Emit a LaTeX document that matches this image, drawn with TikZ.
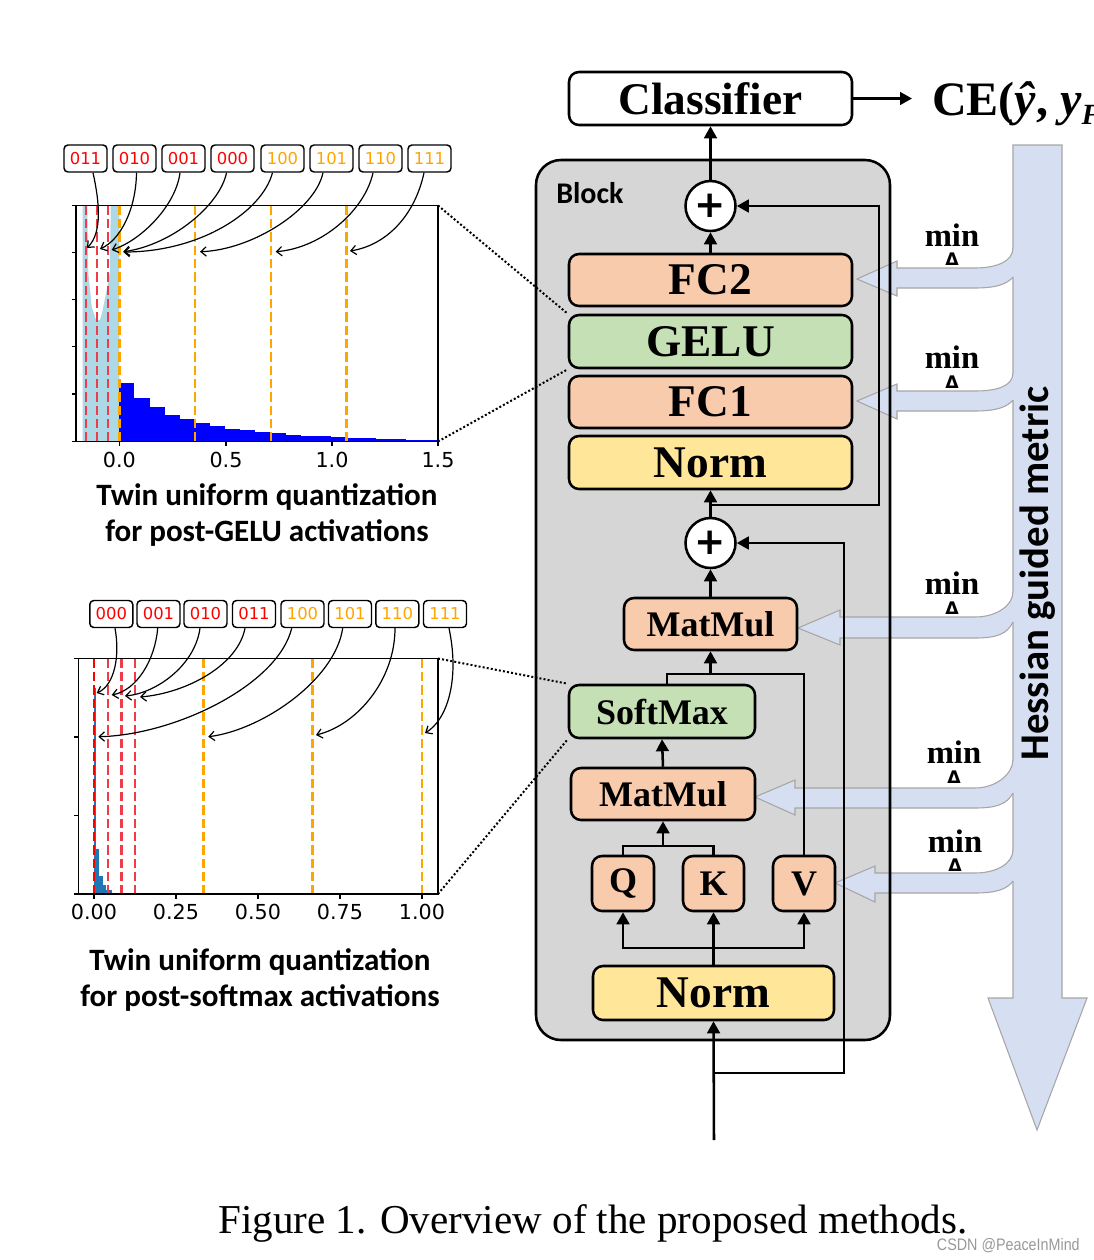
\documentclass[tikz,border=0pt]{standalone}
\usepackage{fontspec}
\setmainfont{Liberation Serif}
\newfontfamily\carl{Carlito}
\newfontfamily\djv{DejaVu Sans}
\newfontfamily\narrowsans[FakeStretch=0.86]{Liberation Sans}
\usetikzlibrary{arrows.meta,calc}
\definecolor{salmon}{HTML}{F8CBAD}
\definecolor{lgreen}{HTML}{C5E0B4}
\definecolor{lyellow}{HTML}{FFE699}
\definecolor{blockgray}{HTML}{D6D6D6}
\definecolor{hess}{HTML}{D6DEF2}
\definecolor{hessb}{HTML}{A6A6A6}
\definecolor{qorange}{HTML}{FFA500}
\definecolor{qredline}{RGB}{238,60,72}
\definecolor{lblue}{HTML}{ADD8E6}
\definecolor{mplblue}{HTML}{1F77B4}
\newcommand\sidearr[9]{%
  \fill[hess] (1015,#8) -- (1013,#8) .. controls (1013,#8+13) and (997,#4) .. (975,#4) -- (#3,#4) -- (#3,#6) -- (#1,#2) -- (#3,#7) -- (#3,#5) -- (975,#5) .. controls (997,#5) and (1007,#5-4) .. (1013,#9) -- (1015,#9) -- cycle;
  \draw[hessb,line width=0.8pt,line join=miter] (1013,#8) .. controls (1013,#8+13) and (997,#4) .. (975,#4) -- (#3,#4) -- (#3,#6) -- (#1,#2) -- (#3,#7) -- (#3,#5) -- (975,#5) .. controls (997,#5) and (1007,#5-4) .. (1013,#9);
}
\newcommand\minlab[4]{%
  \node[minf,anchor=base] (#1m) at (#2,#3) {min};
  \node[deltaf,anchor=base] (#1d) at (#2,#4) {Δ};
}
\begin{document}
\begin{tikzpicture}[x=0.75pt,y=-0.75pt,
  box/.style={draw,line width=1.9pt,rounded corners=7.5pt,inner sep=0pt,minimum height=39pt},
  bigt/.style={font=\bfseries\fontsize{34}{36}\selectfont},
  midt/.style={font=\bfseries\fontsize{27}{30}\selectfont},
  conn/.style={line width=1.9pt},
  tri/.style={-{Triangle[length=9pt,width=9.5pt]}},
  plusn/.style={circle,draw,line width=1.9pt,fill=white,minimum size=37.5pt,inner sep=0pt,font=\djv\bfseries\fontsize{28}{28}\selectfont},
  bitbox/.style={draw,line width=1.1pt,rounded corners=3pt,minimum width=32.25pt,minimum height=20.25pt,inner sep=0pt,fill=white,font=\djv\fontsize{12.3}{12.3}\selectfont},
  qarr/.style={line width=0.9pt,-{Straight Barb[length=4pt,width=7pt]}},
  redq/.style={qredline,line width=1.8pt,dash pattern=on 7pt off 3pt},
  orq/.style={qorange,line width=1.8pt,dash pattern=on 7pt off 3pt},
  tickl/.style={font=\djv\fontsize{15.5}{16}\selectfont},
  capt/.style={font=\carl\bfseries\fontsize{23.3}{27.3}\selectfont,align=center},
  minf/.style={font=\bfseries\fontsize{24.5}{25}\selectfont,inner sep=0pt},
  deltaf/.style={font=\djv\bfseries\fontsize{13}{13}\selectfont,inner sep=0pt},
  dotl/.style={line width=1.5pt,dash pattern=on 1.5pt off 1.6pt}
]
\useasboundingbox (0,0) rectangle (1094,1260);
\fill[white] (0,0) rectangle (1094,1260);

% ===== block background
\fill[blockgray,rounded corners=18.75pt] (536,160) rectangle (890,1040);

% ===== Hessian arrow
\draw[hessb,fill=hess,line width=0.8pt,line join=miter] (1013,145) -- (1062,145) -- (1062,998) -- (1087,998) -- (1037,1130) -- (988,998) -- (1013,998) -- cycle;
\node[rotate=90,font=\carl\bfseries\fontsize{30.6}{32}\selectfont,inner sep=0pt] (hesst) at (1038,573.5) {Hessian guided metric};

\sidearr{857}{279}{897}{268}{288}{261}{296}{248}{277}
\sidearr{857}{401}{897}{391}{411}{384}{419}{373}{400}
\sidearr{798}{628}{840}{617}{638}{610}{645}{592}{622}
\sidearr{755}{797}{795}{788}{808}{780}{815}{760}{793}
\sidearr{835}{883}{875}{873}{893}{866}{902}{850}{881}

\minlab{ma}{952}{246}{265.5}
\minlab{mb}{952}{368}{388}
\minlab{mc}{952}{594}{614.5}
\minlab{md}{954}{763}{783.5}
\minlab{me}{955}{852}{871}

% block border
\draw[line width=1.9pt,rounded corners=18.75pt] (536,160) rectangle (890,1040);
\node[anchor=west,font=\carl\bfseries\fontsize{22.5}{24}\selectfont,inner sep=0pt] (blk) at (556,193) {Block};

% ===== nodes
\node[box,fill=white,minimum width=212.25pt,minimum height=39.75pt,bigt] (cls) at (710.5,98.5) {Classifier};
\node[plusn] (p1) at (710.5,206) {+};
\node[box,fill=salmon,minimum width=212.25pt,bigt] (fc2) at (710.5,280) {FC2};
\node[box,fill=lgreen,minimum width=212.25pt,minimum height=39.75pt,bigt] (gelu) at (710.5,341.5) {GELU};
\node[box,fill=salmon,minimum width=212.25pt,bigt] (fc1) at (710.5,402) {FC1};
\node[box,fill=lyellow,minimum width=212.25pt,minimum height=39.75pt,bigt] (n1) at (710.5,462.5) {Norm};
\node[plusn] (p2) at (710.5,543) {+};
\node[box,fill=salmon,minimum width=129.75pt,midt] (mm1) at (710.5,624) {MatMul};
\node[box,fill=lgreen,minimum width=139.5pt,minimum height=39.75pt,midt] (sm) at (662,711.5) {SoftMax};
\node[box,fill=salmon,minimum width=138pt,midt] (mm2) at (663,794) {MatMul};
\node[box,fill=salmon,minimum width=46.5pt,minimum height=41.25pt,midt] (q) at (623,883.5) {Q};
\node[box,fill=salmon,minimum width=45.75pt,minimum height=41.25pt,midt] (k) at (713.5,883.5) {K};
\node[box,fill=salmon,minimum width=46.5pt,minimum height=41.25pt,midt] (v) at (804,883.5) {V};
\node[box,fill=lyellow,minimum width=180.75pt,minimum height=40.5pt,bigt] (n2) at (713.5,993) {Norm};

% ===== connectors
\coordinate (ceend) at (912,98.5);
\draw[conn,tri] (cls.east) -- (ceend);
\node[anchor=base west,inner sep=0pt,font=\bfseries\fontsize{36}{36}\selectfont] (ce) at (932,115) {CE(\textit{ŷ}, \textit{y}{\fontsize{22}{22}\selectfont\raisebox{-7pt}{\textit{F}}}};
\draw[conn,tri] (p1.north) -- (cls.south);
\draw[conn,tri] (fc2.north) -- (p1.south);
\draw[conn,tri] (p2.north) -- (n1.south);
\coordinate (r1) at (710.5,505);
\draw[conn,tri] (r1) -- (879,505) |- (p1.east);
\draw[conn,tri] (mm1.north) -- (p2.south);
\coordinate (r2) at (714,1073);
\draw[conn,tri] (r2) -- (844,1073) |- (p2.east);
\coordinate (inp) at (714,1140);
\draw[conn,tri] (inp) -- (n2.south);
\coordinate (jsv) at (710.5,674);
\draw[conn] ($(sm.north)+(5,0)$) |- (v.north |- jsv) -- (v.north);
\draw[conn,tri] (jsv) -- (mm1.south);
\draw[conn,tri] (mm2.north) -- (sm.south);
\coordinate (jqk) at (663,846);
\draw[conn] (q.north) |- (k.north |- jqk) -- (k.north);
\draw[conn,tri] (jqk) -- (mm2.south);
\coordinate (jb) at (713.5,948);
\draw[conn,tri] (n2.north) -- (k.south);
\draw[conn,tri] (jb) -| (q.south);
\draw[conn,tri] (jb) -| (v.south);

% ===== top histogram
\fill[lblue] (82.7,441.5) -- (82.7,205.5) -- (87.3,205.5) -- (88.3,273) -- (91.7,307) -- (96,320) -- (100,320) -- (102,313) -- (106.7,290) -- (110,272) -- (110.7,205.5) -- (119.3,205.5) -- (119.3,441.5) -- cycle;
\foreach \h [count=\i from 0] in {382.7,398.3,407.3,415,419,422.7,425.7,428.7,430,432,433.3,434.7,435.7,436.3,437,437.7,438.3,439,439.3,439.7,440}
  \fill[blue] (119.3+\i*15.11,441.5) rectangle (119.3+\i*15.11+15.11,\h);
\foreach \x in {86,97,108} \draw[redq] (\x,205.5) -- (\x,441.5);
\foreach \x in {119.3,195,270.7,346.3} \draw[orq] (\x,205.5) -- (\x,441.5);
\draw[line width=0.9pt] (76,205.5) rectangle (438,441.5);
\foreach \y in {205.5,252.5,299.5,346.5,394,441.5} \draw[line width=0.9pt] (71.5,\y) -- (76,\y);
\foreach \x/\t [count=\i] in {119.3/0.0,226/0.5,332/1.0,438/1.5} {
  \draw[line width=0.9pt] (\x,441.5) -- (\x,446);
  \node[tickl] (ta\i) at (\x,460) {\t};
}
\coordinate (h1tr) at (438,205.5);
\coordinate (h1br) at (438,441.5);
\foreach \x/\t/\c [count=\i] in {85.5/011/red,134.5/010/red,183.5/001/red,232.5/000/red,282.5/100/qorange,331.5/101/qorange,380.5/110/qorange,429.5/111/qorange}
  \node[bitbox,text=\c] (t\i) at (\x,158.5) {\t};
\draw[qarr] ($(t1.south)+(7.5,0)$) .. controls (99,200) and (103,232) .. (87,248);
\draw[qarr] ($(t2.south)+(2,0)$) .. controls (136,210) and (120,240) .. (100,249);
\draw[qarr] ($(t3.south)+(-3.5,0)$) .. controls (176,205) and (142,240) .. (111.7,250);
\draw[qarr] ($(t4.south)+(-6,0)$) .. controls (220,205) and (172,245) .. (123.3,251.7);
\draw[qarr] ($(t5.south)+(-10,0)$) .. controls (262,212) and (200,252) .. (123.3,252);
\draw[qarr] ($(t6.south)+(-8.5,0)$) .. controls (315,210) and (252,250) .. (200,251.7);
\draw[qarr] ($(t7.south)+(-7.5,0)$) .. controls (365,210) and (322,248) .. (275.7,251.7);
\draw[qarr] ($(t8.south)+(-5.5,0)$) .. controls (415,215) and (387,245) .. (350,251);
\node[capt] (c1) at (267,515) {Twin uniform quantization\\for post-GELU activations};

% ===== bottom histogram
\fill[mplblue] (94.3,894) rectangle (96,688);
\fill[mplblue] (96,894) rectangle (99.3,849);
\fill[mplblue] (99.3,894) rectangle (102.7,875.7);
\fill[mplblue] (102.7,894) rectangle (106,885);
\fill[mplblue] (106,894) rectangle (112,890);
\draw[red,line width=1.8pt,dash pattern=on 7pt off 3pt] (94,658.5) -- (94,894);
\foreach \x in {107.7,121.3,135} \draw[redq] (\x,658.5) -- (\x,894);
\foreach \x in {203.3,312.3,422} \draw[orq] (\x,658.5) -- (\x,894);
\draw[line width=0.9pt] (78.5,658.5) rectangle (438,894);
\foreach \y in {658.5,737,815.5,894} \draw[line width=0.9pt] (74,\y) -- (78.5,\y);
\foreach \x/\t [count=\i] in {94/0.00,176/0.25,258/0.50,340/0.75,422/1.00} {
  \draw[line width=0.9pt] (\x,894) -- (\x,898.5);
  \node[tickl] (tb\i) at (\x,912) {\t};
}
\coordinate (h2tr) at (438,658.5);
\coordinate (h2br) at (438,894);
\foreach \x/\t/\c [count=\i] in {111.3/000/red,158.5/001/red,205.5/010/red,254/011/red,302.5/100/qorange,350/101/qorange,397.3/110/qorange,445/111/qorange}
  \node[bitbox,text=\c] (b\i) at (\x,614) {\t};
\draw[qarr] ($(b1.south)+(3.7,0)$) .. controls (120,655) and (115,685) .. (96.7,693);
\draw[qarr] ($(b2.south)+(-0.8,0)$) .. controls (155,660) and (137,690) .. (111.7,695);
\draw[qarr] ($(b3.south)+(-5.5,0)$) .. controls (195,665) and (157,693) .. (125,696);
\draw[qarr] ($(b4.south)+(-9,0)$) .. controls (238,665) and (187,693) .. (140,697);
\draw[qarr] ($(b5.south)+(-10.8,0)$) .. controls (278,685) and (175,735) .. (98.3,736.7);
\draw[qarr] ($(b6.south)+(-7.3,0)$) .. controls (335,680) and (262,730) .. (208.3,736.7);
\draw[qarr] ($(b7.south)+(-2.3,0)$) .. controls (395,680) and (357,725) .. (316,735);
\draw[qarr] ($(b8.south)+(4,0)$) .. controls (460,680) and (447,720) .. (425,733);
\node[capt] (c2) at (260,980) {Twin uniform quantization\\for post-softmax activations};

% ===== dotted zoom lines
\draw[dotl] (h1tr) -- (gelu.north west);
\draw[dotl] (h1br) -- (gelu.south west);
\draw[dotl] (h2tr) -- (sm.north west);
\draw[dotl] (h2br) -- (sm.south west);

% ===== caption
\node[anchor=base,inner sep=0pt,font=\fontsize{30.8}{32}\selectfont] (fig) at (593,1233) {Figure 1. Overview of the proposed methods.};
\node[anchor=base east,inner sep=0pt,text=black!40,font=\narrowsans\fontsize{12.5}{13}\selectfont] (wm) at (1080,1250) {CSDN @PeaceInMind};
\end{tikzpicture}
\end{document}
